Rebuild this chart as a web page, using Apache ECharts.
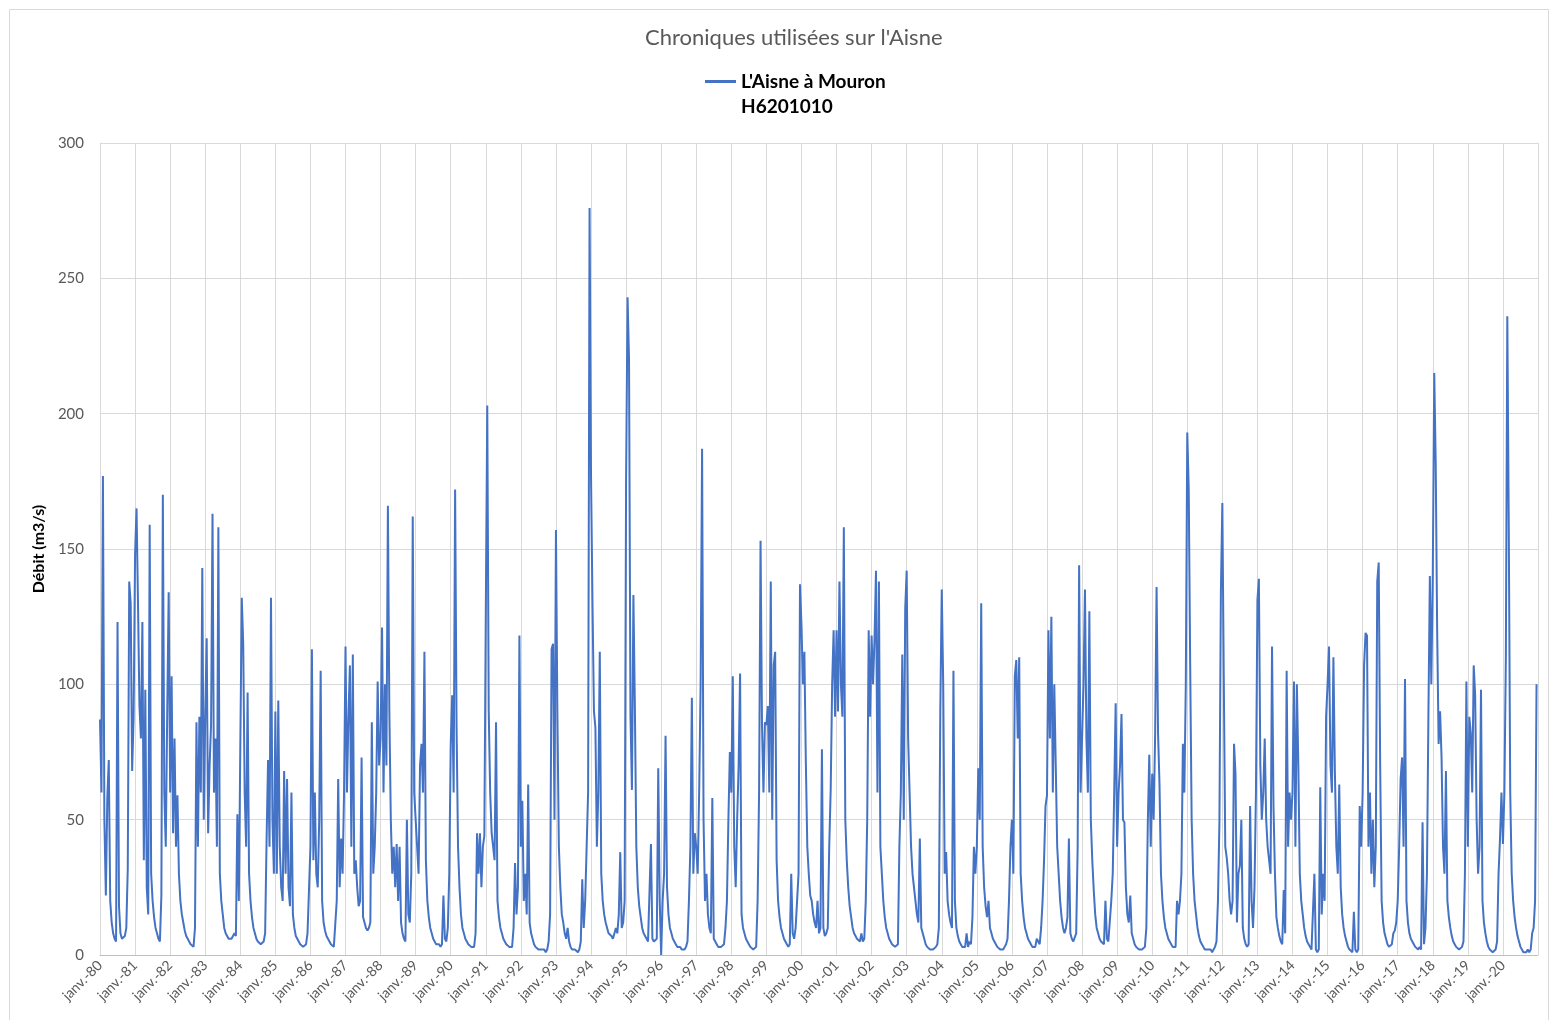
<!DOCTYPE html>
<html>
<head>
<meta charset="utf-8">
<title>Chroniques utilisées sur l'Aisne</title>
<script src="https://cdn.jsdelivr.net/npm/echarts@6/dist/echarts.min.js"></script>
<style>
  html, body { margin: 0; padding: 0; background: #fff; }
  #chart { width: 1554px; height: 1020px; }
</style>
</head>
<body>
<div id="chart"></div>
<script>
// débit (m3/s), 24 valeurs par an (1er et 16 de chaque mois)
const startYear = 1980;
const perYear = 24;

const debit1980s = [
  [87,60,177,50,22,58,72,20,12,8,6,5,123,18,8,6,6,7,10,32,138,130,68,88],
  [148,165,130,92,80,123,35,98,25,15,159,30,20,14,10,8,6,5,22,170,60,40,90,134],
  [60,103,45,80,40,59,30,20,15,12,9,7,6,5,4,4,3,10,86,40,88,60,143,50],
  [88,117,45,70,85,163,60,80,40,158,30,20,15,10,8,7,6,6,6,7,8,7,52,20],
  [20,132,115,60,40,97,30,20,14,10,8,6,5,5,4,4,5,8,43,72,40,132,50,30],
  [90,30,94,40,25,20,68,30,65,25,18,60,15,10,7,6,5,4,4,3,3,4,8,24],
  [40,113,35,60,30,25,50,105,20,12,9,7,6,5,4,4,3,3,20,65,25,43,30,60],
  [114,60,88,107,40,111,30,35,25,18,20,73,14,12,10,9,10,12,86,30,40,60,101,70],
  [80,121,60,100,70,166,90,50,30,40,25,41,20,40,12,8,6,5,50,15,12,30,162,60],
  [60,40,30,70,78,60,112,35,20,14,10,8,6,5,4,4,4,3,4,22,6,5,10,30]
];

const debit1990s = [
  [78,96,60,172,84,40,25,15,10,8,6,5,4,4,3,3,3,8,45,30,45,25,40,44],
  [127,203,90,60,45,40,35,86,20,14,10,8,6,5,4,4,3,3,3,10,34,15,25,118],
  [40,57,20,30,15,63,12,8,6,4,3,3,2,2,2,2,2,1,2,5,15,113,115,50],
  [157,88,40,25,15,12,8,6,10,5,3,2,2,2,2,1,2,5,28,10,20,40,60,276],
  [177,130,90,84,40,60,112,30,20,15,12,10,8,8,7,6,6,10,8,15,38,10,12,20],
  [176,243,220,88,61,133,92,40,25,18,14,10,8,7,6,5,5,41,6,5,5,6,69,20],
  [0,20,30,81,25,15,10,8,6,5,4,3,3,3,2,2,2,3,5,20,40,95,30,45],
  [40,30,60,100,187,50,20,30,15,10,8,58,6,5,4,3,3,3,3,4,10,20,50,75],
  [60,103,40,25,50,70,104,15,10,8,6,5,4,3,3,2,2,3,20,60,153,85,60,86],
  [85,92,60,138,50,107,112,35,20,14,10,8,6,5,4,3,4,30,8,6,10,20,30,137]
];

const debit2000s = [
  [122,100,112,71,40,30,22,20,15,12,10,20,8,10,76,10,7,8,10,40,61,100,120,88],
  [120,90,138,100,88,158,50,35,25,18,14,10,8,7,6,6,5,8,5,6,20,50,120,88],
  [118,100,117,142,60,138,40,30,20,14,10,8,6,5,4,4,3,3,4,40,60,111,50,128],
  [142,80,60,40,30,25,20,15,12,43,10,8,6,4,3,3,2,2,2,2,3,4,10,90],
  [135,100,30,38,20,15,12,10,105,20,10,7,5,4,3,3,3,8,3,5,4,14,40,30],
  [40,69,50,130,40,25,18,14,20,10,8,6,5,4,3,3,2,2,2,3,4,6,20,40],
  [50,30,103,109,80,110,30,20,14,10,8,6,5,4,3,3,3,6,5,4,10,20,35,55],
  [59,120,80,125,60,100,70,40,30,20,14,10,8,10,14,43,8,6,5,5,8,40,144,60],
  [60,100,135,80,60,127,50,35,24,15,10,8,6,5,5,4,20,6,5,5,20,30,60,93],
  [40,60,70,89,50,49,25,15,12,22,8,6,4,3,3,2,2,2,2,3,10,49,74,40]
];

const debit2010s = [
  [67,50,81,136,82,63,30,20,14,10,8,6,5,4,3,3,3,20,15,20,30,78,60,100],
  [193,172,107,50,30,20,15,10,7,5,4,3,2,2,2,2,2,1,2,3,5,20,49,134],
  [167,101,40,36,30,20,15,20,78,67,12,30,33,50,10,6,4,3,4,55,20,10,25,60],
  [131,139,70,50,60,80,50,40,35,30,114,55,30,14,10,7,5,4,24,8,105,40,60,50],
  [60,101,40,100,70,30,20,15,10,7,5,4,3,2,2,30,2,1,2,62,15,30,20,88],
  [100,114,70,60,110,68,40,30,63,25,15,10,7,5,3,2,2,1,16,2,1,2,55,40],
  [60,107,119,118,40,60,30,50,25,40,138,145,70,20,12,8,6,4,3,3,4,8,9,12],
  [20,40,65,73,40,102,20,12,8,6,5,4,3,3,2,3,2,49,4,10,30,88,140,100],
  [140,215,182,120,78,90,73,40,30,68,20,14,10,7,5,4,3,3,2,2,3,5,30,101],
  [40,88,82,60,107,96,50,30,40,98,20,12,8,5,3,2,2,1,1,2,5,30,43,60]
];

const debit2020 = [
  [41,60,110,236,158,60,30,20,14,10,7,5,3,2,1,1,1,2,1,2,8,10,20,100]
];

const yTicks = { min: 0, max: 300, step: 50 };
const seriesName = "L'Aisne à Mouron\nH6201010";

const rows = [].concat(debit1980s, debit1990s, debit2000s, debit2010s, debit2020);
const lineData = [];
rows.forEach(function(row, y) {
  row.forEach(function(v, k) {
    lineData.push([startYear + y + k / perYear, v]);
  });
});

const chart = echarts.init(document.getElementById('chart'));
const option = {
  animation: false,
  backgroundColor: '#fff',
  textStyle: { fontFamily: 'Lato' },
  title: {
    text: 'Chroniques utilisées sur l\'Aisne',
    left: 640,
    top: 22,
    textStyle: { fontFamily: 'Lato', fontSize: 22, fontWeight: 'normal', color: '#595959' }
  },
  legend: {
    left: 700,
    top: 39,
    icon: 'rect',
    itemWidth: 31,
    itemHeight: 3,
    itemGap: 10,
    textStyle: {
      fontFamily: 'Lato',
      fontSize: 19,
      fontWeight: 'bold',
      color: '#000',
      lineHeight: 25
    },
    // ligne vide en tête : le symbole reste aligné sur la 1re ligne du nom
    formatter: function(name) { return ' \n' + name; },
    data: [seriesName]
  },
  graphic: [{
    type: 'rect',
    shape: { x: 9.5, y: 9.5, width: 1539, height: 1030 },
    style: { fill: 'none', stroke: '#d9d9d9', lineWidth: 1 },
    silent: true
  }],
  grid: { left: 100, right: 16, top: 143, bottom: 65 },
  xAxis: {
    type: 'value',
    min: 1980,
    max: 2021,
    interval: 1,
    axisLine: { show: true, lineStyle: { color: '#bfbfbf' } },
    axisTick: { show: false },
    splitLine: { show: true, lineStyle: { color: '#d9d9d9', width: 1 } },
    axisLabel: {
      rotate: 45,
      margin: 8,
      fontFamily: 'Lato',
      fontSize: 14,
      color: '#595959',
      showMaxLabel: false,
      formatter: function(v) {
        return v < 2021 ? 'janv.-' + String(v).slice(2) : '';
      }
    }
  },
  yAxis: {
    type: 'value',
    min: yTicks.min,
    max: yTicks.max,
    interval: yTicks.step,
    name: 'Débit (m3/s)',
    nameLocation: 'middle',
    nameGap: 50,
    nameTextStyle: { fontFamily: 'Lato', fontSize: 16, fontWeight: 'bold', color: '#000' },
    axisLine: { show: true, lineStyle: { color: '#d9d9d9' } },
    axisTick: { show: false },
    splitLine: { lineStyle: { color: '#d9d9d9', width: 1 } },
    axisLabel: { fontFamily: 'Lato', fontSize: 15, color: '#595959', margin: 16 }
  },
  series: [{
    name: seriesName,
    type: 'line',
    data: lineData,
    showSymbol: false,
    symbol: 'none',
    lineStyle: { color: '#4472C4', width: 2 },
    itemStyle: { color: '#4472C4' }
  }]
};
chart.setOption(option);
window.addEventListener('resize', function() {
  chart.resize();
});
</script>
</body>
</html>
